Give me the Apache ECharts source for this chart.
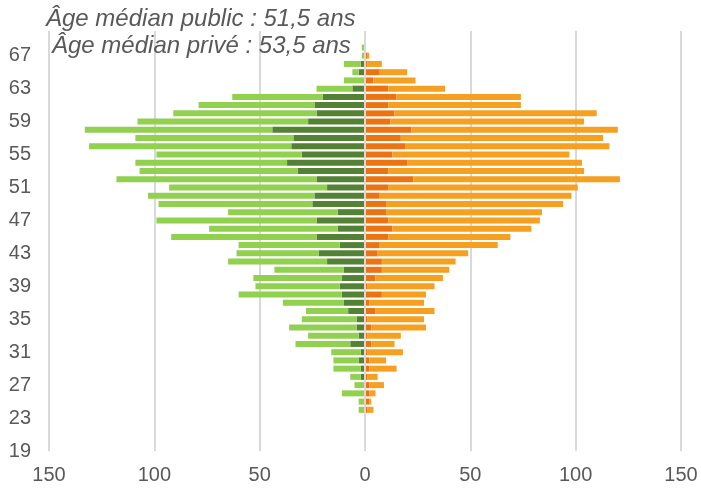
<!DOCTYPE html>
<html>
<head>
<meta charset="utf-8">
<script src="https://cdn.jsdelivr.net/npm/echarts@6/dist/echarts.min.js"></script>
<style>
  html, body { margin: 0; padding: 0; background: #fff; }
  #chart { width: 701px; height: 488px; }
</style>
</head>
<body>
<div id="chart"></div>
<script>
// ages, bottom to top (69 and 70 carry no data)
var ages = ['19', '20', '21', '22', '23', '24', '25', '26', '27', '28',
  '29', '30', '31', '32', '33', '34', '35', '36', '37', '38',
  '39', '40', '41', '42', '43', '44', '45', '46', '47', '48',
  '49', '50', '51', '52', '53', '54', '55', '56', '57', '58',
  '59', '60', '61', '62', '63', '64', '65', '66', '67', '68',
  '69', '70'];

// public sector (drawn to the left)
var publicDark = [0, 0, 0, 0, 0, 0, 0, 0, 0, 2,
  2, 3, 2, 7, 3, 4, 4, 8, 10, 11,
  12, 11, 10, 18, 22, 12, 23, 13, 23, 13,
  25, 24, 18, 23, 32, 37, 30, 35, 34, 44,
  27, 23, 24, 20, 6, 0, 3, 2, 0, 0,
  0, 0];
var publicLight = [0, 0, 0, 0, 0, 3, 3, 11, 5, 5,
  13, 12, 14, 26, 24, 32, 26, 20, 29, 49,
  40, 42, 33, 47, 39, 48, 69, 61, 76, 52,
  73, 79, 75, 95, 75, 72, 69, 96, 75, 89,
  81, 68, 55, 43, 17, 10, 3, 8, 1.5, 1.5,
  0, 0];

// private sector (drawn to the right)
var privateDark = [0, 0, 0, 0, 0, 1, 2, 2, 2, 1,
  2, 2, 1, 3, 1, 3, 1, 5, 2, 8,
  1, 5, 8, 8, 6, 7, 11, 13, 11, 10,
  10, 7, 11, 23, 11, 20, 13, 19, 17, 22,
  12, 14, 11, 15, 11, 4, 7, 1, 1, 0,
  0, 0];
var privateLight = [0, 0, 0, 0, 0, 3, 1, 3, 7, 5,
  13, 8, 17, 11, 16, 26, 27, 28, 26, 21,
  32, 32, 32, 35, 43, 56, 58, 66, 72, 74,
  84, 91, 90, 98, 93, 83, 84, 97, 96, 98,
  92, 96, 63, 59, 27, 20, 13, 7, 1, 0,
  0, 0];

var xTicks = [-150, -100, -50, 0, 50, 100, 150];

var textColor = '#595959';
var fontName = '"Liberation Sans", Arial, sans-serif';

function neg(arr) {
  return arr.map(function (v) { return -v; });
}

var chart = echarts.init(document.getElementById('chart'));

var option = {
  animation: false,
  backgroundColor: '#fff',
  graphic: [{
    type: 'text',
    left: 46,
    top: 7,
    z: 100,
    style: {
      text: 'Âge médian public : 51,5 ans',
      font: 'italic 24px ' + fontName,
      fill: textColor
    }
  }, {
    type: 'text',
    left: 52,
    top: 34,
    z: 100,
    style: {
      text: 'Âge médian privé : 53,5 ans',
      font: 'italic 24px ' + fontName,
      fill: textColor
    }
  }],
  grid: {
    left: 49,
    right: 20,
    top: 31,
    bottom: 37,
    containLabel: false
  },
  xAxis: {
    type: 'value',
    min: xTicks[0],
    max: xTicks[xTicks.length - 1],
    interval: 50,
    axisLine: { show: false },
    axisTick: { show: false },
    axisLabel: {
      color: textColor,
      fontSize: 20,
      fontFamily: fontName,
      margin: 14,
      formatter: function (v) { return Math.abs(v); }
    },
    splitLine: {
      lineStyle: { color: '#D9D9D9', width: 2 }
    }
  },
  yAxis: {
    type: 'category',
    data: ages,
    boundaryGap: false,
    axisLine: { show: false },
    axisTick: { show: false },
    axisLabel: {
      interval: 3,
      color: textColor,
      fontSize: 20,
      fontFamily: fontName,
      margin: 18
    },
    splitLine: { show: false }
  },
  series: [{
    name: 'Public (foncé)',
    type: 'bar',
    stack: 'pyramide',
    barWidth: 6,
    data: neg(publicDark),
    itemStyle: { color: '#548235' },
    markLine: {
      silent: true,
      symbol: 'none',
      label: { show: false },
      lineStyle: { color: '#D9D9D9', width: 2, type: 'solid' },
      data: [{ xAxis: 0 }],
      z: 10
    }
  }, {
    name: 'Public (clair)',
    type: 'bar',
    stack: 'pyramide',
    barWidth: 6,
    data: neg(publicLight),
    itemStyle: { color: '#92D050' }
  }, {
    name: 'Privé (foncé)',
    type: 'bar',
    stack: 'pyramide',
    barWidth: 6,
    data: privateDark,
    itemStyle: { color: '#EC7311' }
  }, {
    name: 'Privé (clair)',
    type: 'bar',
    stack: 'pyramide',
    barWidth: 6,
    data: privateLight,
    itemStyle: { color: '#F5A021' }
  }]
};

chart.setOption(option);
</script>
</body>
</html>
